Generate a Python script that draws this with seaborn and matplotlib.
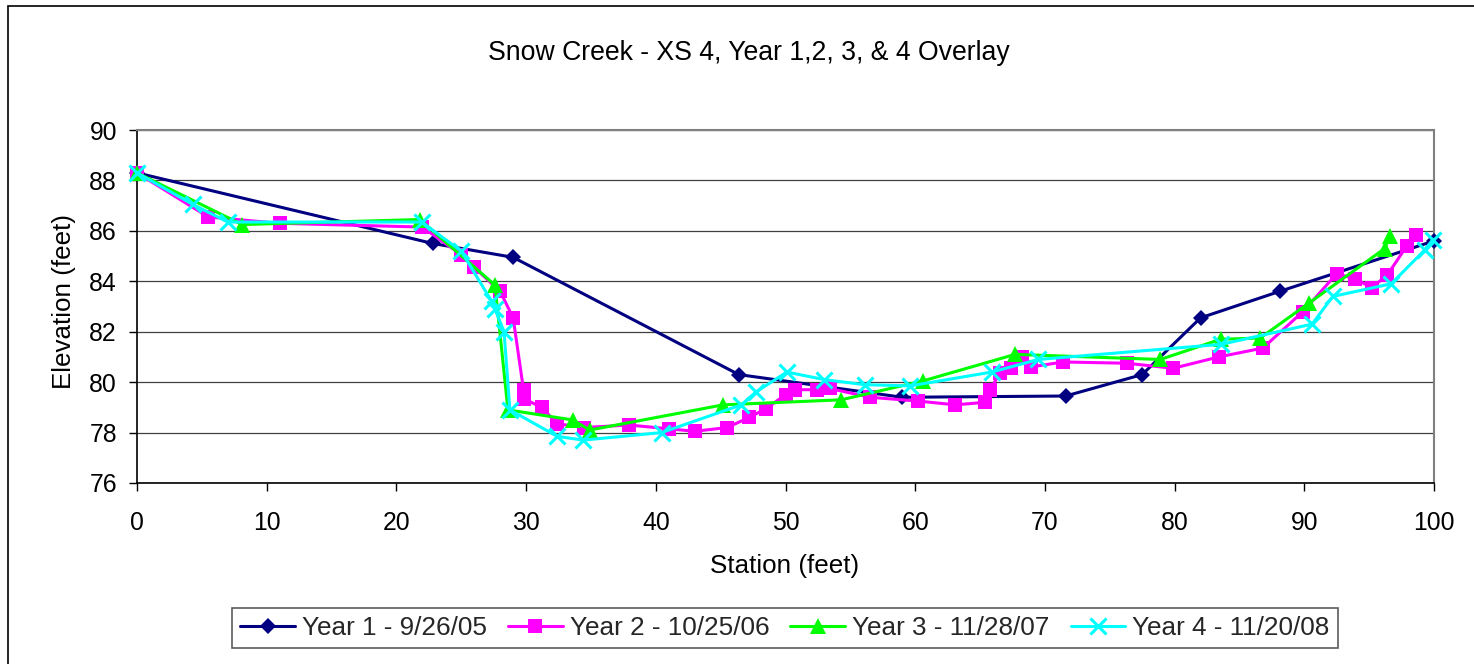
import matplotlib
matplotlib.use("Agg")
import matplotlib.pyplot as plt
import matplotlib.patches as mpatches
import seaborn as sns
import pandas as pd

# ---------------- data ----------------
year1_x = [0, 22.8, 29.0, 46.4, 59.0, 71.6, 77.5, 82.0, 88.1, 100.0]
year1_y = [88.3, 85.5, 84.95, 80.3, 79.4, 79.45, 80.3, 82.55, 83.6, 85.6]

year2_x = [0, 5.5, 11.0, 22.0, 25.0, 26.0, 28.0, 29.0, 29.8, 29.8,
           31.2, 32.4, 34.5, 37.9, 41.0, 43.0, 45.5, 47.2, 48.5, 50.0,
           50.7, 52.4, 53.4, 56.5, 60.2, 63.1, 65.4, 65.8, 66.5, 67.4,
           68.2, 68.9, 71.4, 76.3, 79.9, 83.4, 86.8, 89.9, 92.5, 93.9,
           95.2, 96.4, 97.9, 98.6]
year2_y = [88.3, 86.55, 86.3, 86.15, 85.05, 84.55, 83.6, 82.55, 79.7, 79.35,
           79.0, 78.35, 78.2, 78.3, 78.15, 78.05, 78.2, 78.6, 78.95, 79.5,
           79.7, 79.7, 79.75, 79.4, 79.25, 79.1, 79.2, 79.7, 80.35, 80.55,
           81.0, 80.6, 80.8, 80.75, 80.55, 81.0, 81.35, 82.8, 84.3, 84.1,
           83.75, 84.25, 85.4, 85.85]

year3_x = [0, 8.1, 21.8, 27.6, 28.6, 33.6, 34.9, 45.2, 54.3, 60.6,
           67.7, 78.9, 83.55, 86.6, 90.4, 96.2, 96.6]
year3_y = [88.3, 86.25, 86.45, 83.85, 78.9, 78.5, 78.1, 79.1, 79.3, 80.05,
           81.1, 80.9, 81.7, 81.75, 83.15, 85.3, 85.8]

year4_x = [0, 4.3, 7.0, 21.95, 25.0, 27.35, 27.6, 28.3, 28.75, 32.4,
           34.4, 40.45, 46.6, 47.7, 50.1, 53.0, 56.1, 59.6, 65.9, 69.5,
           83.6, 90.6, 92.2, 96.7, 99.3, 99.9]
year4_y = [88.3, 87.05, 86.35, 86.35, 85.2, 83.2, 82.9, 82.0, 78.9, 77.85,
           77.7, 78.0, 79.1, 79.6, 80.4, 80.1, 79.9, 79.85, 80.4, 80.9,
           81.5, 82.3, 83.4, 83.9, 85.25, 85.65]

series_names = ["Year 1 - 9/26/05", "Year 2 - 10/25/06",
                "Year 3 - 11/28/07", "Year 4 - 11/20/08"]
x_ticks = [0, 10, 20, 30, 40, 50, 60, 70, 80, 90, 100]
y_ticks = [76, 78, 80, 82, 84, 86, 88, 90]

title_text = "Snow Creek - XS 4, Year 1,2, 3, & 4 Overlay"
x_label = "Station (feet)"
y_label = "Elevation (feet)"

# ---------------- style ----------------
sns.set_theme(style="white")
plt.rcParams["font.family"] = ["Liberation Sans", "DejaVu Sans"]

W, H = 1474, 664
fig = plt.figure(figsize=(W / 100, H / 100), dpi=100)
L, R, T, B = 137, 1434, 130, 483
ax = fig.add_axes([L / W, 1 - B / H, (R - L) / W, (B - T) / H])

colors = ["#000080", "#FF00FF", "#00FF00", "#00FFFF"]
styles = [
    dict(marker="D", markersize=8.5, markeredgewidth=0),
    dict(marker="s", markersize=10.5, markeredgewidth=0),
    dict(marker="^", markersize=11, markeredgewidth=0),
    dict(marker="x", markersize=11, markeredgewidth=2.2),
]
xs = [year1_x, year2_x, year3_x, year4_x]
ys = [year1_y, year2_y, year3_y, year4_y]

for name, x, y, c, st in zip(series_names, xs, ys, colors, styles):
    df = pd.DataFrame({"Station": x, "Elevation": y})
    sns.lineplot(data=df, x="Station", y="Elevation", ax=ax, sort=False,
                 estimator=None, label=name, linewidth=2.2, color=c,
                 markeredgecolor=c, markerfacecolor=c,
                 clip_on=False, zorder=3, **st)

ax.set_xlim(0, 100)
ax.set_ylim(76, 90)
ax.set_xticks(x_ticks)
ax.set_yticks(y_ticks)
ax.set_xticklabels([str(v) for v in x_ticks])
ax.set_yticklabels([str(v) for v in y_ticks])
ax.tick_params(axis="both", which="major", labelsize=17.8, colors="black",
               direction="out", length=5.8, width=1)
ax.tick_params(axis="x", bottom=True, pad=14)
ax.tick_params(axis="y", left=True, pad=8.6)

ax.yaxis.grid(True, color="#404040", linewidth=0.9)
ax.xaxis.grid(False)
ax.set_axisbelow(True)

for side in ["left", "bottom"]:
    ax.spines[side].set_color("black")
    ax.spines[side].set_linewidth(1.2)
for side in ["top", "right"]:
    ax.spines[side].set_color("#808080")
    ax.spines[side].set_linewidth(1.5)
    ax.spines[side].set_visible(True)

ax.set_xlabel(x_label, fontsize=18.7, color="black")
ax.set_ylabel(y_label, fontsize=18.7, color="black")
ax.xaxis.label.set_va("center")
ax.yaxis.label.set_va("center")
ax.xaxis.set_label_coords((785 - L) / (R - L), -(566 - B) / (B - T))
ax.yaxis.set_label_coords((63.5 - L) / (R - L), (B - 301) / (B - T))

fig.text(749 / W, 1 - 53 / H, title_text, ha="center", va="center",
         fontsize=19.2, color="black")

# legend
handles, labels = ax.get_legend_handles_labels()
ax.get_legend().remove()
leg = fig.legend(handles, labels, loc="center",
                 bbox_to_anchor=(785 / W, 1 - 628 / H), ncol=4,
                 fontsize=18.8, frameon=True, fancybox=False, shadow=False,
                 edgecolor="#333333", handlelength=2.1, handletextpad=0.27,
                 columnspacing=0.8, borderpad=0.3, borderaxespad=0)
leg.get_frame().set_linewidth(1.2)

# outer chart border
fig.add_artist(mpatches.Rectangle((8 / W, -0.1), 1.2, 1 - 6 / H + 0.1,
                                  transform=fig.transFigure, fill=False,
                                  edgecolor="black", linewidth=1.2))

fig.savefig("out.png", dpi=100, facecolor="white")
